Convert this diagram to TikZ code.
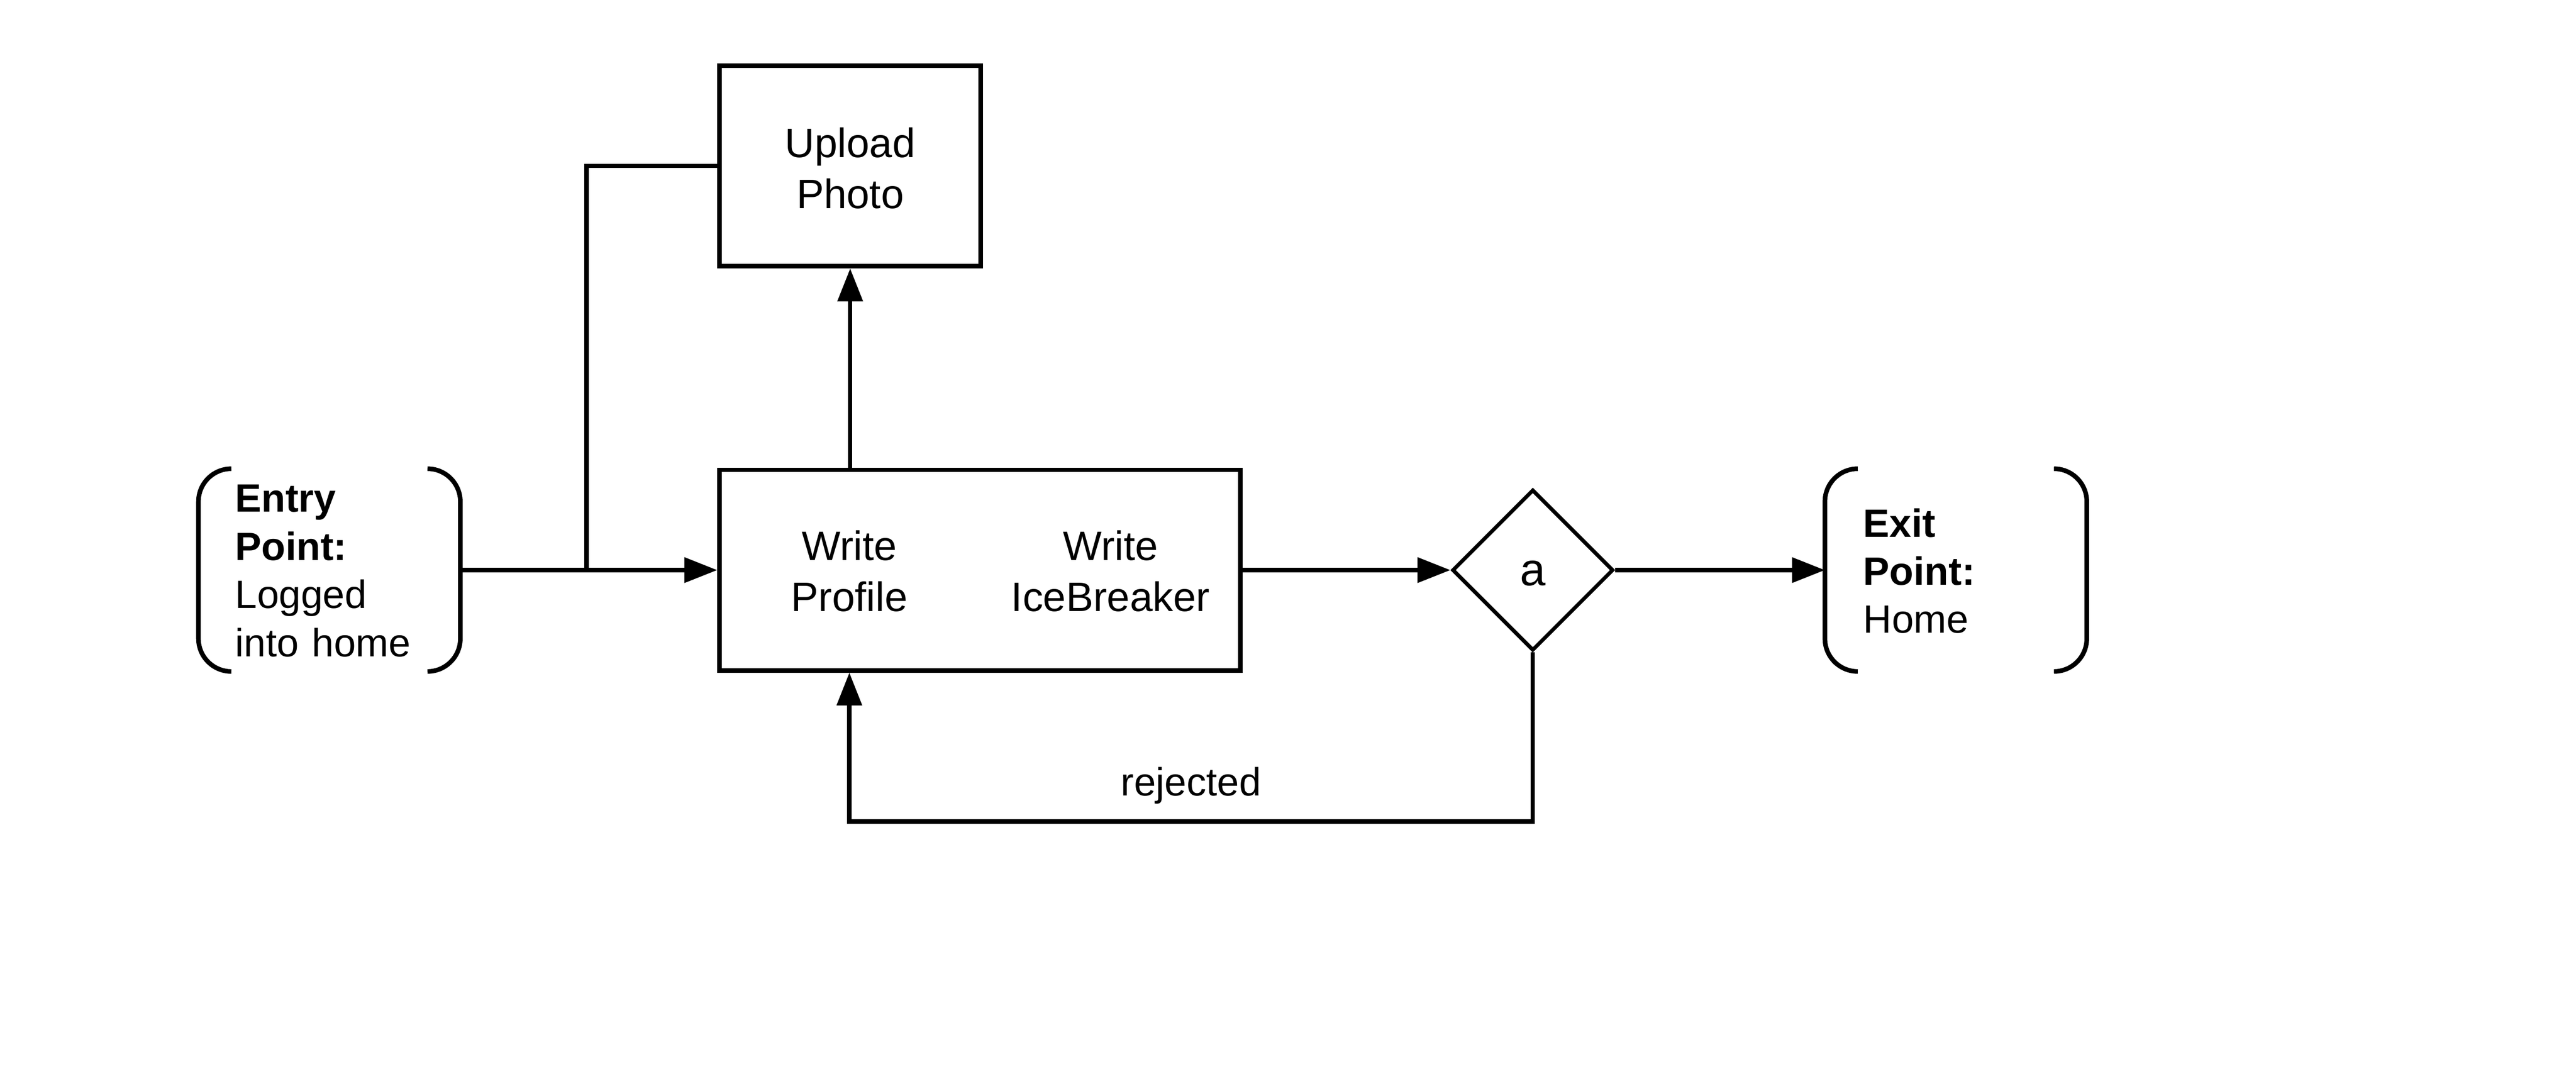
\documentclass[tikz,border=0pt]{standalone}
\usepackage{fontspec}
\setmainfont{Liberation Sans}
\usetikzlibrary{arrows.meta,shapes.geometric}
\begin{document}
\begin{tikzpicture}[x=1pt,y=-1pt,
  boxtxt/.style={font=\fontsize{25}{31}\selectfont, align=center},
  procbox/.style={draw, line width=2.8pt, rectangle, inner sep=0pt},
  brk/.style={rectangle, inner sep=0pt, minimum width=159pt, minimum height=123pt},
  brktxt/.style={font=\fontsize{24}{29.3}\selectfont, align=left, text width=115pt, inner sep=0pt},
  brkline/.style={line width=2.8pt, rounded corners=20pt},
  arr/.style={line width=2.6pt, -{Triangle[length=20pt,width=15pt]}},
  conn/.style={line width=2.6pt},
  decide/.style={draw, diamond, aspect=1, line width=2.3pt, inner sep=0pt, minimum size=98pt}]
\useasboundingbox (0,0) rectangle (1568,659.5);

% entry bracket node
\node[brk] (entry) at (200.5,347) {};
\node[brktxt, anchor=west] (entrytxt) at (143,347.5) {\textbf{Entry}\\\textbf{Point:}\\Logged\\into home};
\draw[brkline] ([xshift=20pt]entry.north west) -- (entry.north west) -- (entry.south west) -- ([xshift=20pt]entry.south west);
\draw[brkline] ([xshift=-20pt]entry.north east) -- (entry.north east) -- (entry.south east) -- ([xshift=-20pt]entry.south east);

% exit bracket node
\node[brk] (exit) at (1190.5,347) {};
\node[brktxt, anchor=west] (exittxt) at (1134,347.5) {\textbf{Exit}\\\textbf{Point:}\\Home};
\draw[brkline] ([xshift=20pt]exit.north west) -- (exit.north west) -- (exit.south west) -- ([xshift=20pt]exit.south west);
\draw[brkline] ([xshift=-20pt]exit.north east) -- (exit.north east) -- (exit.south east) -- ([xshift=-20pt]exit.south east);

% boxes
\node[procbox, minimum width=159pt, minimum height=122pt] (upload) at (517.5,101) {};
\node[boxtxt] (uploadtxt) at (517.5,102.5) {Upload\\Photo};
\node[procbox, minimum width=317pt, minimum height=122pt] (write) at (596.5,347) {};
\node[boxtxt] (wp) at (517,347.5) {Write\\Profile};
\node[boxtxt] (wi) at (676,347.5) {Write\\IceBreaker};

% decision
\node[decide] (dia) at (933,347) {};
\node[font=\fontsize{28}{32}\selectfont] (diatxt) at (933,349) {a};

% connectors
\draw[arr] (entry.east) -- (entry.east -| write.west);
\coordinate (j) at (357,347);
\draw[conn] (j) |- (upload.west);
\draw[arr] (upload.south |- write.north) -- (upload.south);
\draw[arr] (write.east) -- (dia.west);
\draw[arr] (dia.east) -- (exit.west);
\coordinate (rj) at (517,500);
\draw[arr] (dia.south) |- (rj) -- (rj |- write.south);
\node[font=\fontsize{24}{29}\selectfont] (rejlbl) at (725,478) {rejected};
\end{tikzpicture}
\end{document}
